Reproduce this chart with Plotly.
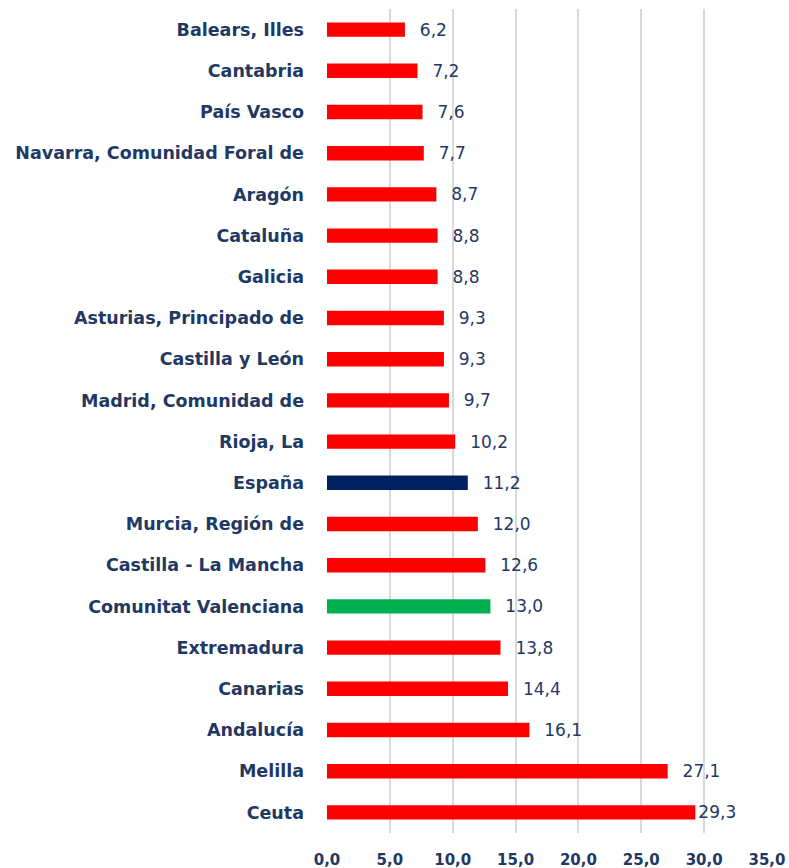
import plotly.graph_objects as go

regions = ["Balears, Illes", "Cantabria", "País Vasco", "Navarra, Comunidad Foral de",
           "Aragón", "Cataluña", "Galicia", "Asturias, Principado de", "Castilla y León",
           "Madrid, Comunidad de", "Rioja, La", "España", "Murcia, Región de",
           "Castilla - La Mancha", "Comunitat Valenciana", "Extremadura", "Canarias",
           "Andalucía", "Melilla", "Ceuta"]
values = [6.2, 7.2, 7.6, 7.7, 8.7, 8.8, 8.8, 9.3, 9.3, 9.7, 10.2, 11.2, 12.0, 12.6,
          13.0, 13.8, 14.4, 16.1, 27.1, 29.3]
tick_vals = [0, 5, 10, 15, 20, 25, 30, 35]
tick_text = ["0,0", "5,0", "10,0", "15,0", "20,0", "25,0", "30,0", "35,0"]

RED, NAVY, GREEN = "#FF0000", "#002060", "#00B050"
TEXT = "#1F3864"
colors = [NAVY if r == "España" else GREEN if r == "Comunitat Valenciana" else RED
          for r in regions]
labels = [("\u2002\u2009" if r != "Ceuta" else "") + f"{v:.1f}".replace(".", ",")
          for r, v in zip(regions, values)]

fig = go.Figure(go.Bar(
    x=values, y=regions, orientation="h",
    marker=dict(color=colors, line=dict(width=0)),
    width=0.35,
    text=labels, textposition="outside", cliponaxis=False, constraintext="none",
    textfont=dict(family="DejaVu Sans", size=17, color=TEXT),
    hoverinfo="skip",
))

fig.update_layout(
    width=789, height=868,
    margin=dict(l=327, r=22, t=9, b=35),
    paper_bgcolor="white", plot_bgcolor="white",
    showlegend=False,
    font=dict(family="DejaVu Sans", color=TEXT),
    xaxis=dict(range=[0, 35], tickvals=tick_vals, ticktext=tick_text,
               showgrid=True, gridcolor="#D9D9D9", gridwidth=2,
               zeroline=False, showline=False, automargin=False,
               ticks="", ticklabelstandoff=16,
               tickfont=dict(family="DejaVu Sans", size=15, color=TEXT, weight="bold")),
    yaxis=dict(autorange="reversed", showgrid=False, zeroline=False, showline=False,
               automargin=False, ticks="", ticklabelstandoff=22,
               tickfont=dict(family="DejaVu Sans", size=17.5, color=TEXT, weight="bold")),
)

fig.write_html("out.html", config={"displayModeBar": False},
               post_script="document.body.style.margin='0';")
